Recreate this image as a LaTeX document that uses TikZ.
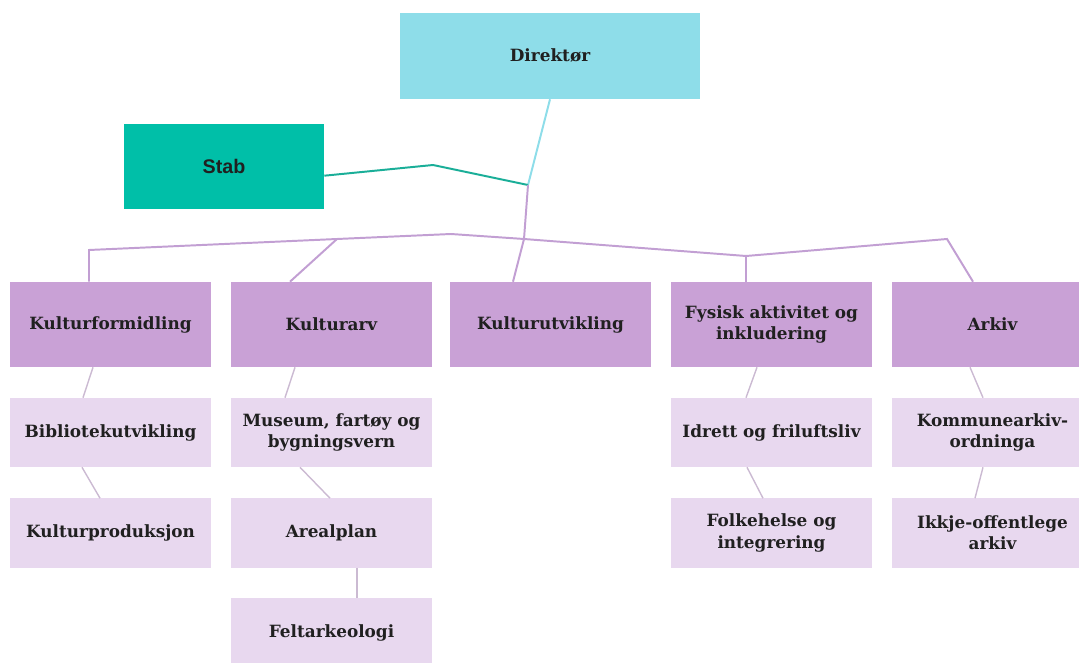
\documentclass[tikz,border=0pt]{standalone}
\usepackage{fontspec}
\setmainfont{DejaVu Serif}
\setsansfont{Liberation Sans}
\definecolor{dircol}{HTML}{8EDDE9}
\definecolor{stabcol}{HTML}{00BFA8}
\definecolor{avdcol}{HTML}{C9A1D6}
\definecolor{seksjcol}{HTML}{E8D8EF}
\definecolor{busline}{HTML}{C29FD3}
\definecolor{stabline}{HTML}{1AAE98}
\definecolor{subline}{HTML}{CBBAD2}
\definecolor{txt}{HTML}{202020}

\begin{document}
\begin{tikzpicture}[x=0.025cm,y=-0.025cm,
  box/.style={rectangle, inner sep=2pt, align=center, text=txt,
    font=\fontsize{12}{15}\selectfont\bfseries},
  avd/.style={box, fill=avdcol, minimum width=5.025cm, minimum height=2.125cm},
  seksj/.style={box, fill=seksjcol, minimum width=5.025cm, minimum height=1.725cm},
  link/.style={draw=busline, line width=1.4pt},
  sublink/.style={draw=subline, line width=1pt}]
\useasboundingbox (0,0) rectangle (1079,663);

% top
\node[box, fill=dircol, minimum width=7.5cm, minimum height=2.15cm] (dir) at (550,56) {Direktør};
\node[box, fill=stabcol, minimum width=5cm, minimum height=2.125cm,
  font=\sffamily\fontsize{14}{16}\selectfont\bfseries] (stab) at (224,166.5) {Stab};

% departments
\node[avd] (kf) at (110.5,324.5) {Kulturformidling};
\node[avd] (ka) at (331.5,324.5) {Kulturarv};
\node[avd] (ku) at (550.5,324.5) {Kulturutvikling};
\node[avd] (fa) at (771.5,324.5) {Fysisk aktivitet og\\inkludering};
\node[avd] (ar) at (992.5,324.5) {Arkiv};

% sections
\node[seksj] (bib) at (110.5,432.5) {Bibliotekutvikling};
\node[seksj] (kp) at (110.5,533) {Kulturproduksjon};
\node[seksj] (mus) at (331.5,432.5) {Museum, fartøy og\\bygningsvern};
\node[seksj] (are) at (331.5,533) {Arealplan};
\node[seksj] (fel) at (331.5,633) {Feltarkeologi};
\node[seksj] (idr) at (771.5,432.5) {Idrett og friluftsliv};
\node[seksj] (fol) at (771.5,533) {Folkehelse og\\integrering};
\node[seksj] (kom) at (992.5,432.5) {Kommunearkiv-\\ordninga};
\node[seksj] (ikk) at (992.5,533) {Ikkje-offentlege\\arkiv};

% junctions
\coordinate (hub) at (528,185);
\coordinate (cross) at (524,239);
\coordinate (b1) at (89,250);
\coordinate (b2) at (337,239);
\coordinate (b3) at (451,234);
\coordinate (b4) at (746,256);
\coordinate (b5) at (947,239);

\draw[draw=dircol, line width=1.4pt] (dir.south) -- (hub);
\draw[draw=stabline, line width=1.4pt] ([yshift=-0.23cm]stab.east) -- (433,165) -- (hub);
\draw[link] (hub) -- (cross) -- (ku.north -| 513,0);
\draw[link] (kf.north -| b1) -- (b1) -- (b2) -- (b3) -- (cross) -- (b4) -- (b5) -- (ar.north -| 973,0);
\draw[link] (b2) -- (ka.north -| 290,0);
\draw[link] (b4) -- (fa.north -| b4);

% section links
\draw[sublink] (kf.south -| 93,0) -- (bib.north -| 83,0);
\draw[sublink] (bib.south -| 82,0) -- (kp.north -| 100,0);
\draw[sublink] (ka.south -| 295,0) -- (mus.north -| 285,0);
\draw[sublink] (mus.south -| 300,0) -- (are.north -| 330,0);
\draw[sublink] (are.south -| 357,0) -- (fel.north -| 357,0);
\draw[sublink] (fa.south -| 757,0) -- (idr.north -| 746,0);
\draw[sublink] (idr.south -| 747,0) -- (fol.north -| 763,0);
\draw[sublink] (ar.south -| 970,0) -- (kom.north -| 983,0);
\draw[sublink] (kom.south -| 983,0) -- (ikk.north -| 975,0);
\end{tikzpicture}
\end{document}
